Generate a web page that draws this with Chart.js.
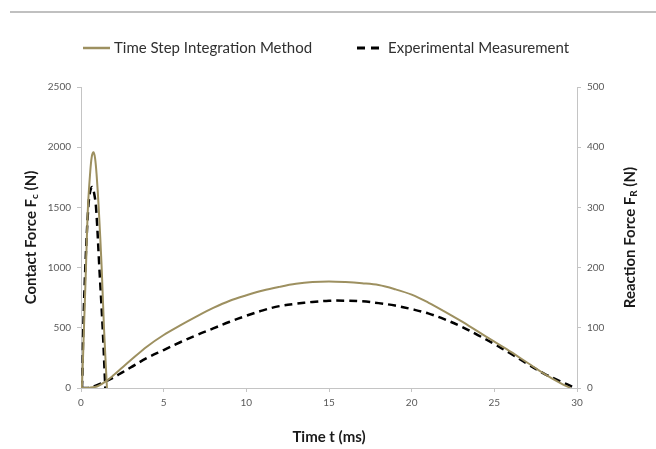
<!DOCTYPE html>
<html>
<head>
<meta charset="utf-8">
<script src="https://cdn.jsdelivr.net/npm/chart.js@4.4.0/dist/chart.umd.min.js"></script>
<style>
    body { margin: 0; background: #fff; }
    #wrap { position: relative; width: 656px; height: 449px; }
</style>
</head>
<body>
<div id="wrap"><canvas id="chart" width="656" height="449"></canvas></div>
<script>
// contact force peak (left axis, N)
const contactTimeSim = [0, 0.05, 0.18, 0.30, 0.42, 0.55, 0.65, 0.75, 0.85, 0.95, 1.07, 1.25, 1.39, 1.57];
const contactForceSim = [0, 0, 500, 1000, 1500, 1780, 1920, 1958, 1910, 1760, 1500, 1000, 500, 0];
const contactTimeExp = [0, 0.06, 0.14, 0.26, 0.44, 0.55, 0.67, 0.79, 0.91, 1.11, 1.31, 1.47];
const contactForceExp = [0, 0, 500, 1000, 1500, 1630, 1670, 1620, 1500, 1000, 500, 0];

// reaction force hump (right axis, N)
const reactionTimeSim = [0, 0.5, 1, 1.5, 2, 2.5, 3, 4, 5, 6, 7, 8, 9, 10, 11, 12, 13, 14, 15, 16, 17, 18, 19, 20, 21, 22, 23, 24, 25, 26, 27, 28, 29, 29.6];
const reactionForceSim = [0, 0.5, 3, 11, 22, 34, 46, 69, 88, 104, 119, 133, 145, 154, 162, 168, 173, 176, 177, 176, 174, 171, 164, 155, 142, 127, 111, 94, 77, 60, 42, 24, 8, 0];
const reactionTimeExp = [0, 0.4, 1, 1.5, 2, 2.5, 3, 4, 5, 6, 7, 8, 9, 10, 11, 12, 13, 14, 15, 16, 17, 18, 19, 20, 21, 22, 23, 24, 25, 26, 27, 28, 29, 29.9];
const reactionForceExp = [0, 0, 5, 11, 18, 26, 34, 50, 63, 76, 88, 99, 110, 120, 129, 136, 140, 143, 145, 145, 144, 141, 137, 131, 124, 114, 102, 88, 73, 57, 40, 24, 11, 0];

const seriesNames = ['Time Step Integration Method', 'Experimental Measurement'];
const xTicks = [0, 5, 10, 15, 20, 25, 30];

const GOLD = '#9d9060';
const AXIS = '#c4c4c4';
const FONT = 'Lato, "Open Sans", sans-serif';

function pts(xs, ys) {
    return xs.map((x, i) => ({ x: x, y: ys[i] }));
}

function simStyle(extra) {
    return Object.assign({
        borderColor: GOLD, backgroundColor: GOLD, borderWidth: 2,
        pointRadius: 0, tension: 0.35, fill: false
    }, extra);
}
function expStyle(extra) {
    return Object.assign({
        borderColor: '#000', backgroundColor: '#000', borderWidth: 2.5, borderDash: [8, 5],
        pointRadius: 0, tension: 0.35, fill: false
    }, extra);
}

// draws text with an optional subscript part, centred on (cx, cy), optionally rotated
function drawRich(ctx, parts, cx, cy, rotate) {
    ctx.save();
    ctx.translate(cx, cy);
    if (rotate) ctx.rotate(-Math.PI / 2);
    let total = 0;
    parts.forEach(p => { ctx.font = p.font; total += ctx.measureText(p.text).width; });
    let x = -total / 2;
    ctx.textBaseline = 'middle';
    ctx.textAlign = 'left';
    parts.forEach(p => {
        ctx.font = p.font;
        ctx.fillStyle = '#1a1a1a';
        ctx.fillText(p.text, x, p.dy || 0);
        x += ctx.measureText(p.text).width;
    });
    ctx.restore();
}

const extras = {
    id: 'extras',
    afterDraw(chart) {
        const ctx = chart.ctx;
        const area = chart.chartArea;
        const big = 'bold 15px ' + FONT;
        const sub = 'bold 10px ' + FONT;

        // thin rule across the top
        ctx.save();
        ctx.fillStyle = '#c0c0c0';
        ctx.fillRect(10, 11, 646, 2);

        // legend
        ctx.font = '15px ' + FONT;
        ctx.fillStyle = '#303030';
        ctx.textBaseline = 'middle';
        ctx.lineWidth = 2.5;
        ctx.strokeStyle = GOLD;
        ctx.beginPath(); ctx.moveTo(83, 48); ctx.lineTo(110, 48); ctx.stroke();
        ctx.fillText(seriesNames[0], 114, 48);
        ctx.lineWidth = 3;
        ctx.strokeStyle = '#000';
        ctx.setLineDash([8, 6]);
        ctx.beginPath(); ctx.moveTo(357, 48); ctx.lineTo(380, 48); ctx.stroke();
        ctx.setLineDash([]);
        ctx.fillText(seriesNames[1], 388, 48);
        ctx.restore();

        const midY = (area.top + area.bottom) / 2;
        drawRich(ctx, [
            { text: 'Contact Force F', font: big },
            { text: 'c', font: sub, dy: 4 },
            { text: ' (N)', font: big }
        ], 31, midY, true);
        drawRich(ctx, [
            { text: 'Reaction Force F', font: big },
            { text: 'R', font: sub, dy: 4 },
            { text: ' (N)', font: big }
        ], 630, midY, true);
        drawRich(ctx, [{ text: 'Time t (ms)', font: big }], (area.left + area.right) / 2, 437, false);
    }
};

const tickFont = { family: FONT, size: 10 };
const plain = v => String(v);

new Chart(document.getElementById('chart'), {
    type: 'line',
    data: {
        datasets: [
            simStyle({ label: seriesNames[0], data: pts(contactTimeSim, contactForceSim), yAxisID: 'y' }),
            simStyle({ label: seriesNames[0], data: pts(reactionTimeSim, reactionForceSim), yAxisID: 'y1' }),
            expStyle({ label: seriesNames[1], data: pts(contactTimeExp, contactForceExp), yAxisID: 'y' }),
            expStyle({ label: seriesNames[1], data: pts(reactionTimeExp, reactionForceExp), yAxisID: 'y1' })
        ]
    },
    options: {
        responsive: false,
        animation: false,
        layout: { padding: { top: 87, left: 0, right: 0, bottom: 0 } },
        plugins: { legend: { display: false }, tooltip: { enabled: false } },
        scales: {
            x: {
                type: 'linear', min: 0, max: 30,
                afterBuildTicks: s => { s.ticks = xTicks.map(v => ({ value: v })); },
                afterFit: s => { s.height = 61; },
                grid: { drawOnChartArea: false, color: AXIS, tickLength: 4 },
                border: { color: AXIS },
                ticks: { font: tickFont, color: '#595959', padding: 5, maxRotation: 0, callback: plain }
            },
            y: {
                position: 'left', min: 0, max: 2500,
                afterFit: s => { s.width = 81; },
                grid: { drawOnChartArea: false, color: AXIS, tickLength: 4 },
                border: { color: AXIS },
                ticks: { stepSize: 500, font: tickFont, color: '#595959', padding: 6, callback: plain }
            },
            y1: {
                position: 'right', min: 0, max: 500,
                afterFit: s => { s.width = 79; },
                grid: { drawOnChartArea: false, color: AXIS, tickLength: 4 },
                border: { color: AXIS },
                ticks: { stepSize: 100, font: tickFont, color: '#595959', padding: 6, callback: plain }
            }
        }
    },
    plugins: [extras]
});
</script>
</body>
</html>
